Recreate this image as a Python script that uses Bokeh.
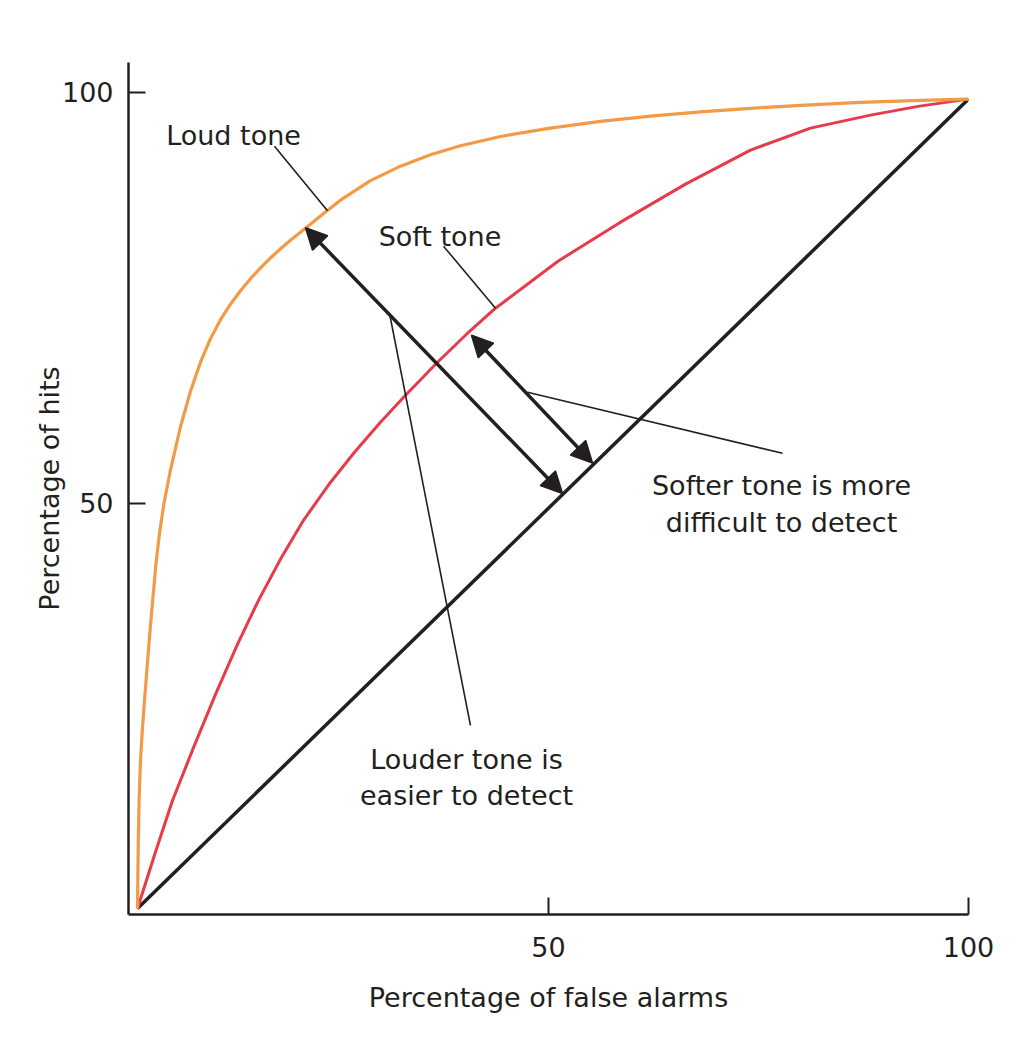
from bokeh.plotting import figure
from bokeh.models import FixedTicker, Arrow, NormalHead, ColumnDataSource, Range1d
from bokeh.core.properties import value
from bokeh.embed import file_html
from bokeh.resources import INLINE

# ---- data ----
loud_fa = [1.071, 1.107, 1.167, 1.262, 1.429, 1.643, 1.905, 2.214, 2.536, 2.881, 3.274,
           3.690, 4.226, 5.000, 6.190, 7.381, 8.571, 9.762, 10.952, 12.143, 13.333,
           14.524, 15.714, 16.905, 18.095, 19.286, 21.071, 23.333, 25.238, 28.810,
           32.381, 35.952, 39.524, 44.286, 50.0, 56.190, 62.143, 68.095, 74.048,
           80.0, 87.143, 94.286, 100.0]
loud_hits = [0.730, 4.136, 9.002, 13.869, 18.735, 22.384, 26.034, 30.049, 34.185, 38.200,
             42.701, 46.350, 50.000, 54.075, 59.307, 63.625, 67.153, 70.012, 72.324,
             74.209, 75.852, 77.311, 78.625, 79.830, 80.949, 81.995, 83.455, 85.341,
             86.861, 89.234, 90.998, 92.384, 93.479, 94.599, 95.596, 96.448, 97.080,
             97.603, 98.029, 98.394, 98.747, 99.002, 99.148]

soft_fa = [1.071, 3.155, 5.238, 7.798, 10.357, 12.917, 15.476, 18.155, 20.833, 23.869,
           26.905, 29.940, 32.976, 36.786, 40.238, 43.690, 51.131, 58.571, 66.310,
           74.048, 81.190, 88.333, 94.167, 100.0]
soft_hits = [0.730, 7.421, 13.869, 20.438, 26.764, 32.725, 38.200, 43.309, 47.932, 52.311,
             56.204, 59.793, 63.139, 67.153, 70.560, 73.723, 79.440, 84.185, 88.808,
             92.944, 95.620, 97.202, 98.297, 99.148]

chance_fa = [1.071, 100.0]
chance_hits = [0.730, 99.148]

x_ticks = [50, 100]
y_ticks = [50, 100]
x_title = "Percentage of false alarms"
y_title = "Percentage of hits"

arrow_x0 = [21.07, 40.83]
arrow_y0 = [83.5, 70.44]
arrow_x1 = [51.67, 55.24]
arrow_y1 = [51.2, 54.9]

leader_x0 = [17.38, 37.5, 31.07, 47.5]
leader_y0 = [93.43, 81.27, 73.11, 63.5]
leader_x1 = [23.69, 43.69, 40.71, 77.86]
leader_y1 = [85.58, 73.72, 22.99, 56.08]

note_text = ["Loud tone", "Soft tone", "Softer tone is more", "difficult to detect",
             "Louder tone is", "easier to detect"]
note_x = [12.5, 37.08, 77.74, 77.74, 40.24, 40.24]
note_y = [94.77, 82.48, 52.19, 47.69, 18.86, 14.48]

# ---- styles ----
INK = "#231F20"
ORANGE = "#F39A47"
RED = "#E73A4B"
FONT = "DejaVu Sans"
FS = "27px"

p = figure(width=1010, height=1024,
           x_range=Range1d(0, 100), y_range=Range1d(0, 103.6),
           output_backend="svg", toolbar_location=None,
           min_border_left=128, min_border_right=42,
           min_border_top=62, min_border_bottom=110)
p.grid.visible = False
p.outline_line_color = None
p.background_fill_color = "white"
p.border_fill_color = "white"

for ax, ticks in ((p.xaxis[0], x_ticks), (p.yaxis[0], y_ticks)):
    ax.ticker = FixedTicker(ticks=ticks)
    ax.minor_tick_line_color = None
    ax.major_tick_in = 17
    ax.major_tick_out = 0
    ax.major_tick_line_width = 2
    ax.major_tick_line_color = INK
    ax.axis_line_width = 2.5
    ax.axis_line_color = INK
    ax.major_label_text_font = FONT
    ax.major_label_text_font_size = FS
    ax.major_label_text_color = INK
    ax.axis_label_text_font = FONT
    ax.axis_label_text_font_size = FS
    ax.axis_label_text_font_style = "normal"
    ax.axis_label_text_color = INK

p.xaxis.major_label_standoff = 22
p.yaxis.major_label_standoff = 15
p.xaxis.axis_label = x_title
p.yaxis.axis_label = y_title
p.xaxis.axis_label_standoff = 22
p.yaxis.axis_label_standoff = -6

p.line(chance_fa, chance_hits, line_color=INK, line_width=3.5)
p.line(soft_fa, soft_hits, line_color=RED, line_width=3)
p.line(loud_fa, loud_hits, line_color=ORANGE, line_width=3.2)

p.segment(x0=leader_x0, y0=leader_y0, x1=leader_x1, y1=leader_y1,
          line_color=INK, line_width=1.6)

arrow_src = ColumnDataSource(dict(x0=arrow_x0, y0=arrow_y0, x1=arrow_x1, y1=arrow_y1))
def head():
    return NormalHead(size=21, fill_color=INK, line_color=INK, line_width=1.5)
p.add_layout(Arrow(start=head(), end=head(), x_start="x0", y_start="y0",
                   x_end="x1", y_end="y1", source=arrow_src,
                   line_color=INK, line_width=3.5))

note_src = ColumnDataSource(dict(x=note_x, y=note_y, text=note_text))
p.text(x="x", y="y", text="text", source=note_src, text_font=value(FONT),
       text_font_size=value(FS), text_align="center", text_baseline="alphabetic",
       text_color=INK)

open("out.html", "w").write(file_html(p, INLINE))
